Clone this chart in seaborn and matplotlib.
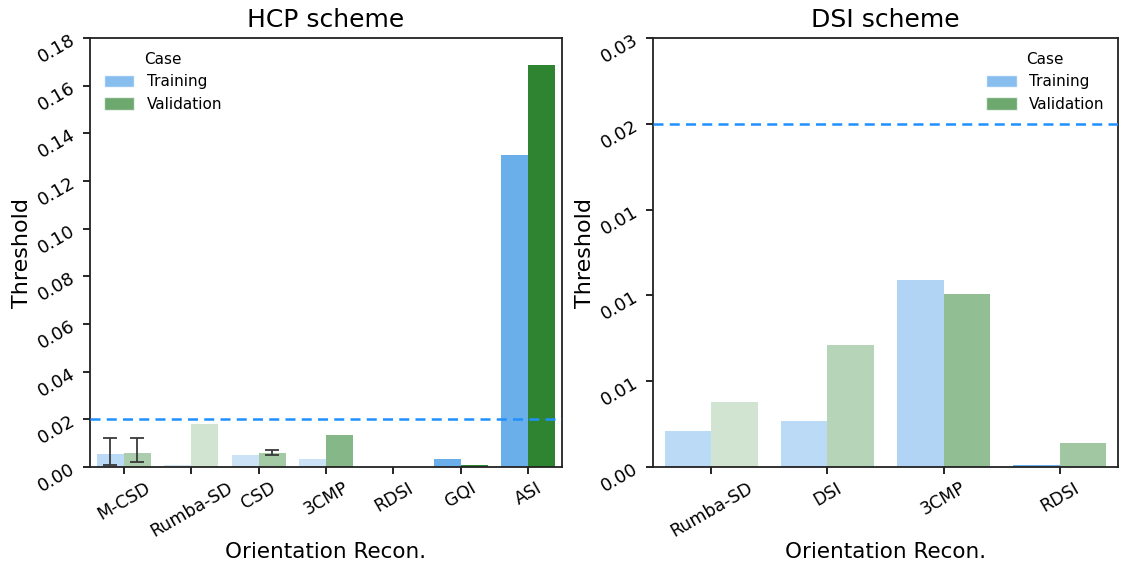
import numpy as np
import pandas as pd
import matplotlib
matplotlib.use("Agg")
import matplotlib.pyplot as plt
from matplotlib.patches import Patch
from matplotlib.ticker import FormatStrFormatter
import seaborn as sns

# ---- data ----
hcp_methods = ["M-CSD", "Rumba-SD", "CSD", "3CMP", "RDSI", "GQI", "ASI"]
hcp_training = [0.0055, 0.0007, 0.0049, 0.0034, 0.0003, 0.0034, 0.1309]
hcp_validation = [0.0059, 0.0179, 0.0060, 0.0134, 0.0001, 0.0008, 0.1685]
# error bar extents (low, high); None where no error bar is drawn
hcp_training_err = [(0.0007, 0.0123), None, None, None, None, None, None]
hcp_validation_err = [(0.0022, 0.0123), None, (0.0052, 0.0070), None, None, None, None]

dsi_methods = ["Rumba-SD", "DSI", "3CMP", "RDSI"]
dsi_training = [0.0021, 0.0027, 0.0109, 0.0001]
dsi_validation = [0.0038, 0.0071, 0.0101, 0.0014]

cases = ["Training", "Validation"]
threshold_line = 0.02

hcp_yticks = [0.00, 0.02, 0.04, 0.06, 0.08, 0.10, 0.12, 0.14, 0.16, 0.18]
dsi_yticks = [0.000, 0.005, 0.010, 0.015, 0.020, 0.025]

# ---- styling ----
train_color = "#6aaeea"
valid_color = "#2f8432"
hcp_train_alpha = [0.45, 0.3, 0.35, 0.35, 0.3, 1.0, 1.0]
hcp_valid_alpha = [0.40, 0.22, 0.44, 0.58, 0.3, 1.0, 1.0]
dsi_train_alpha = [0.45, 0.45, 0.52, 1.0]
dsi_valid_alpha = [0.22, 0.35, 0.52, 0.45]

sns.set_style("ticks")
plt.rcParams["font.family"] = ["DejaVu Sans"]
plt.rcParams["text.color"] = "black"
plt.rcParams["axes.labelcolor"] = "black"
plt.rcParams["xtick.color"] = "black"
plt.rcParams["ytick.color"] = "black"

fig = plt.figure(figsize=(11.31, 5.64), dpi=100)
ax1 = fig.add_axes([0.0796, 0.172, 0.4173, 0.7606])
ax2 = fig.add_axes([0.5774, 0.172, 0.4111, 0.7606])


def long_frame(methods, train, valid):
    return pd.DataFrame({
        "method": methods * 2,
        "value": list(train) + list(valid),
        "Case": ["Training"] * len(methods) + ["Validation"] * len(methods),
    })


def draw_panel(ax, methods, train, valid, t_alpha, v_alpha, title, yticks,
               ylim, legend_loc, t_err=None, v_err=None):
    df = long_frame(methods, train, valid)
    sns.barplot(data=df, x="method", y="value", hue="Case", order=methods,
                hue_order=cases, palette=[train_color, valid_color],
                errorbar=None, width=0.8, saturation=1, legend=False, ax=ax)
    for container, alphas, errs in zip(ax.containers, [t_alpha, v_alpha],
                                       [t_err, v_err]):
        for i, (bar, a) in enumerate(zip(container.patches, alphas)):
            bar.set_alpha(a)
            bar.set_linewidth(0)
            if errs is not None and errs[i] is not None:
                lo, hi = errs[i]
                xc = bar.get_x() + bar.get_width() / 2
                ax.errorbar([xc], [(lo + hi) / 2], yerr=[[(hi - lo) / 2]],
                            fmt="none", ecolor="#3a3a3a", elinewidth=1.3,
                            capsize=5, capthick=1.3, zorder=5)
    ax.axhline(threshold_line, color="#1e90ff", linestyle=(0, (4, 2.5)),
               linewidth=1.8, zorder=6)
    ax.set_ylim(*ylim)
    ax.set_xlim(-0.5, len(methods) - 0.5)
    ax.set_yticks(yticks)
    ax.yaxis.set_major_formatter(FormatStrFormatter("%.2f"))
    ax.tick_params(axis="y", labelrotation=30, labelsize=13, length=5, width=1.2)
    ax.tick_params(axis="x", labelrotation=30, labelsize=12.5, length=5, width=1.2)
    for lab in ax.get_xticklabels():
        lab.set_ha("center")
    for side in ["top", "right", "left", "bottom"]:
        ax.spines[side].set_visible(True)
        ax.spines[side].set_color("#222222")
        ax.spines[side].set_linewidth(1.3)
    ax.set_title(title, fontsize=18, pad=8)
    ax.set_xlabel("Orientation Recon.", fontsize=15.5, labelpad=1)
    ax.set_ylabel("Threshold", fontsize=16, labelpad=2)
    handles = [Patch(facecolor=train_color, alpha=0.8, label="Training"),
               Patch(facecolor=valid_color, alpha=0.7, label="Validation")]
    ax.legend(handles=handles, title="Case", loc=legend_loc,
              frameon=False, fontsize=11, title_fontsize=11,
              handlelength=2.0, handleheight=0.9)
    return ax


draw_panel(ax1, hcp_methods, hcp_training, hcp_validation, hcp_train_alpha,
           hcp_valid_alpha, "HCP scheme", hcp_yticks, (0, 0.18), "upper left",
           hcp_training_err, hcp_validation_err)
draw_panel(ax2, dsi_methods, dsi_training, dsi_validation, dsi_train_alpha,
           dsi_valid_alpha, "DSI scheme", dsi_yticks, (0, 0.025), "upper right")

fig.savefig("out.png", dpi=100)
